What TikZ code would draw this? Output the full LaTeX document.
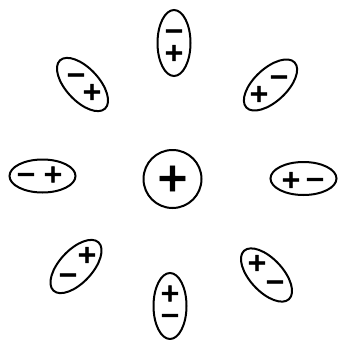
\documentclass[tikz,border=0pt]{standalone}
\usepackage{fontspec}
\newfontfamily\signfont{DejaVu Sans Bold}[FakeBold=2]
\usetikzlibrary{shapes.geometric}
\tikzset{
  dipole/.style={draw, ellipse, line width=2pt, inner sep=0pt, minimum width=66pt, minimum height=33pt},
  ion/.style={draw, circle, line width=2pt, inner sep=0pt, minimum size=58pt},
  sgn/.style={inner sep=0pt, font=\signfont\fontsize{25}{25}\selectfont},
  vsgn/.style={inner sep=0pt, align=center, font=\signfont\fontsize{25}{22}\selectfont},
  bigsgn/.style={inner sep=0pt, font=\signfont\fontsize{40}{40}\selectfont}
}
\newcommand{\pl}{\vphantom{+}+}
\newcommand{\mi}{\vphantom{+}−}
\begin{document}
\begin{tikzpicture}[x=1pt,y=-1pt]
\useasboundingbox (0,0) rectangle (338,340);
% central ion
\node[ion] (c) at (172.5,179) {};
\node[bigsgn] (cp) at (172.5,178.5) {\pl};
% top
\node[dipole, rotate=90] (t) at (174,43) {};
\node[vsgn] (ts) at (174,42) {\mi\\+};
% top-left
\node[dipole, rotate=-47] (tl) at (82.5,84.5) {};
\node[sgn] (tlm) at (76,75) {\mi};
\node[sgn] (tlp) at (92,92) {\pl};
% top-right
\node[dipole, rotate=43] (tr) at (270.5,85) {};
\node[sgn] (trp) at (259,94) {\pl};
\node[sgn] (trm) at (279,77) {\mi};
% left
\node[dipole] (l) at (42.5,176) {};
\node[sgn] (lm) at (26,174.5) {\mi};
\node[sgn] (lp) at (53,174.5) {\pl};
% right
\node[dipole] (r) at (303.5,178.5) {};
\node[sgn] (rp) at (291,180) {\pl};
\node[sgn] (rm) at (315,179.5) {\mi};
% bottom-left
\node[dipole, rotate=47] (bl) at (76,266.5) {};
\node[sgn] (blp) at (87,255) {\pl};
\node[sgn] (blm) at (68,275) {\mi};
% bottom-right
\node[dipole, rotate=-47] (br) at (266.5,275) {};
\node[sgn] (brp) at (257,263) {\pl};
\node[sgn] (brm) at (275,282) {\mi};
% bottom
\node[dipole, rotate=90] (b) at (170,306) {};
\node[vsgn] (bs) at (170,304.5) {\pl\\−};
\end{tikzpicture}
\end{document}
